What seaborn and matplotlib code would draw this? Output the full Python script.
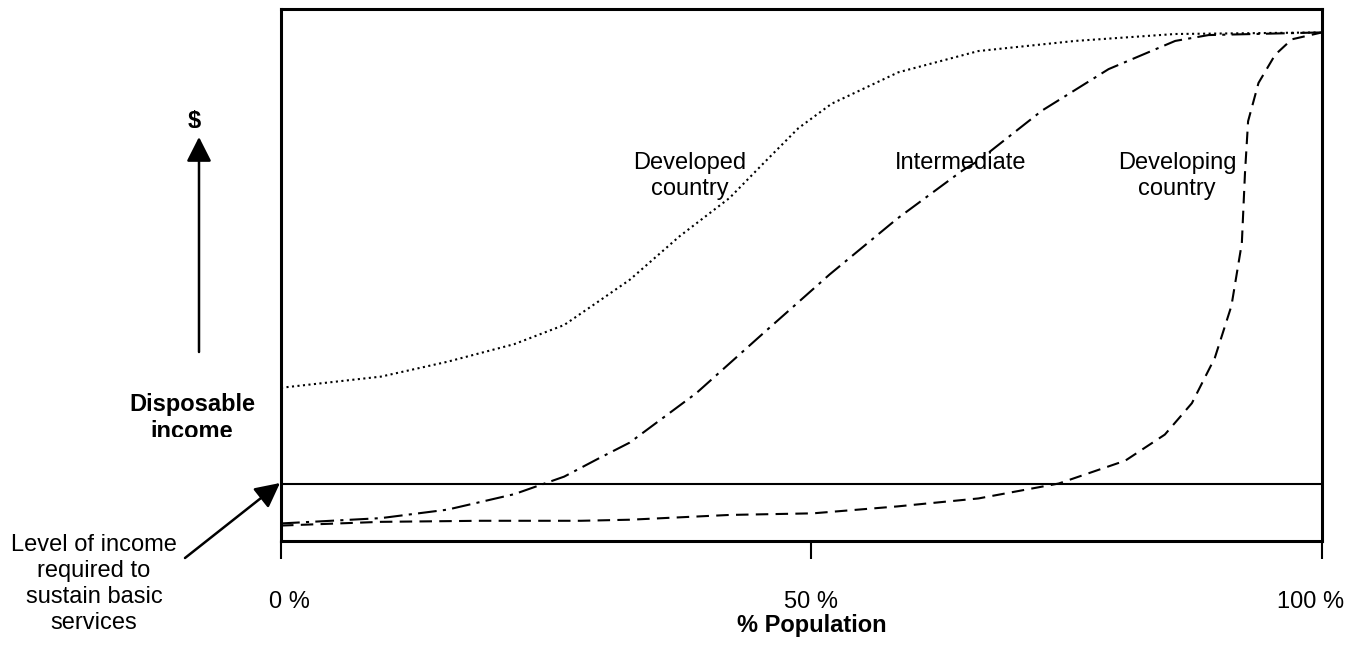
import numpy as np
import pandas as pd
import seaborn as sns
import matplotlib.pyplot as plt
from matplotlib.transforms import Bbox, TransformedBbox, ScaledTranslation

# values: x = % population, y = income (0 = axis floor, 100 = top)
dev_x = [0, 9.6, 16, 22.4, 27.2, 30.4, 33.5, 38.3, 43.1, 46.4, 49.7, 52.9, 59.3, 67.0, 76.3, 85.9, 100]
dev_y = [28.8, 30.9, 33.7, 37.0, 40.6, 44.9, 49.1, 57.3, 64.5, 71.1, 77.6, 82.2, 88.1, 92.1, 94.0, 95.3, 95.6]

mid_x = [0, 9.6, 16, 22.4, 27.2, 30.4, 33.5, 39.9, 46.3, 52.7, 59.2, 65.5, 67.0, 73.1, 79.5, 85.9, 89.1, 100]
mid_y = [3.3, 4.3, 5.9, 8.8, 12.1, 15.4, 18.5, 27.8, 39.0, 50.1, 60.6, 69.7, 71.5, 80.9, 88.7, 94.0, 95.1, 95.6]

dvg_x = [0, 9.6, 19.2, 28.8, 33.5, 43.1, 51.1, 59.2, 67.0, 74.7, 81.1, 84.9, 87.5, 89.7,
         91.3, 92.3, 92.6, 92.9, 93.9, 95.5, 97.1, 100]
dvg_y = [2.9, 3.6, 3.8, 3.8, 4.0, 4.9, 5.2, 6.5, 8.0, 10.8, 15.1, 20.0, 25.9, 34.4,
         44.2, 56.0, 69.1, 78.9, 86.1, 91.4, 94.3, 95.6]

basic_level = 10.8
tick_pos = [0, 50.9, 100]
tick_labels = ["0 %", "50 %", "100 %"]

sns.set_theme(style="white")
plt.rcParams['font.family'] = ['Liberation Sans', 'DejaVu Sans']

W, H = 1361, 648
fig = plt.figure(figsize=(W / 100, H / 100), dpi=100)
ax = fig.add_axes([281 / W, 1 - 541 / H, (1322 - 281) / W, (541 - 9) / H])


def fp(x, y):
    # pixel position (from top-left) to figure fraction
    return x / W, 1 - y / H


sns.lineplot(x=dev_x, y=dev_y, ax=ax, color='black', lw=1.5, linestyle=':')
sns.lineplot(x=mid_x, y=mid_y, ax=ax, color='black', lw=1.5, linestyle=(0, (9, 3, 1.5, 3)))
sns.lineplot(x=dvg_x, y=dvg_y, ax=ax, color='black', lw=1.5, linestyle=(0, (6, 3.5)))
ax.axhline(basic_level, color='black', lw=1.5)

ax.set_xlim(0, 100)
ax.set_ylim(0, 100)
ax.set_yticks([])
ax.set_xticks(tick_pos)
ax.set_xticklabels(tick_labels)
ax.tick_params(axis='x', direction='out', length=13, width=1.5, pad=23,
               labelsize=17, colors='black', bottom=True)
# nudge the end labels like in the original
for lab, dx in zip(ax.get_xticklabels(), [8, 0, -11]):
    lab.set_transform(lab.get_transform() + ScaledTranslation(dx / 100, 0, fig.dpi_scale_trans))
for sp in ax.spines.values():
    sp.set_color('black')
    sp.set_linewidth(2.2)

ax.set_xlabel("% Population", fontsize=17, fontweight='bold', color='black')
ax.xaxis.set_label_coords(0.5096, -0.138)

# curve labels
ax.text(*fp(690, 176), "Developed\ncountry", transform=fig.transFigure, ha='center',
        va='center', fontsize=17, color='black')
ax.text(*fp(961, 163), "Intermediate", transform=fig.transFigure, ha='center',
        va='center', fontsize=17, color='black')
ax.text(*fp(1177, 176), "Developing\ncountry", transform=fig.transFigure, ha='center',
        va='center', fontsize=17, color='black')

# left side annotations
dollar = fig.text(*fp(194, 121), "$", ha='center', va='center', fontsize=17,
                  fontweight='bold', color='black')
dollar.set_clip_box(TransformedBbox(Bbox.from_extents(0, 1 - 128 / H, 1, 1 - 110 / H),
                                    fig.transFigure))
dollar.set_clip_on(True)

fig.text(*fp(192, 405), "Disposable", ha='center', va='center', fontsize=17,
         fontweight='bold', color='black')
inc = fig.text(*fp(192, 432), "income", ha='center', va='center', fontsize=17,
               fontweight='bold', color='black')
inc.set_clip_box(TransformedBbox(Bbox.from_extents(0, 1 - 437 / H, 1, 1), fig.transFigure))
inc.set_clip_on(True)

fig.text(*fp(94, 584), "Level of income\nrequired to\nsustain basic\nservices",
         ha='center', va='center', fontsize=17, color='black', multialignment='center',
         linespacing=1.25)

arrow_style = dict(arrowstyle='-|>,head_length=0.75,head_width=0.38', mutation_scale=20,
                   color='black', lw=1.8, shrinkA=0, shrinkB=0)
ax.annotate("", xy=fp(199, 137), xytext=fp(199, 352), xycoords='figure fraction',
            textcoords='figure fraction', arrowprops=arrow_style, annotation_clip=False)
ax.annotate("", xy=fp(280, 483), xytext=fp(185, 558), xycoords='figure fraction',
            textcoords='figure fraction', arrowprops=arrow_style, annotation_clip=False)

fig.savefig("out.png", dpi=100, facecolor='white')
